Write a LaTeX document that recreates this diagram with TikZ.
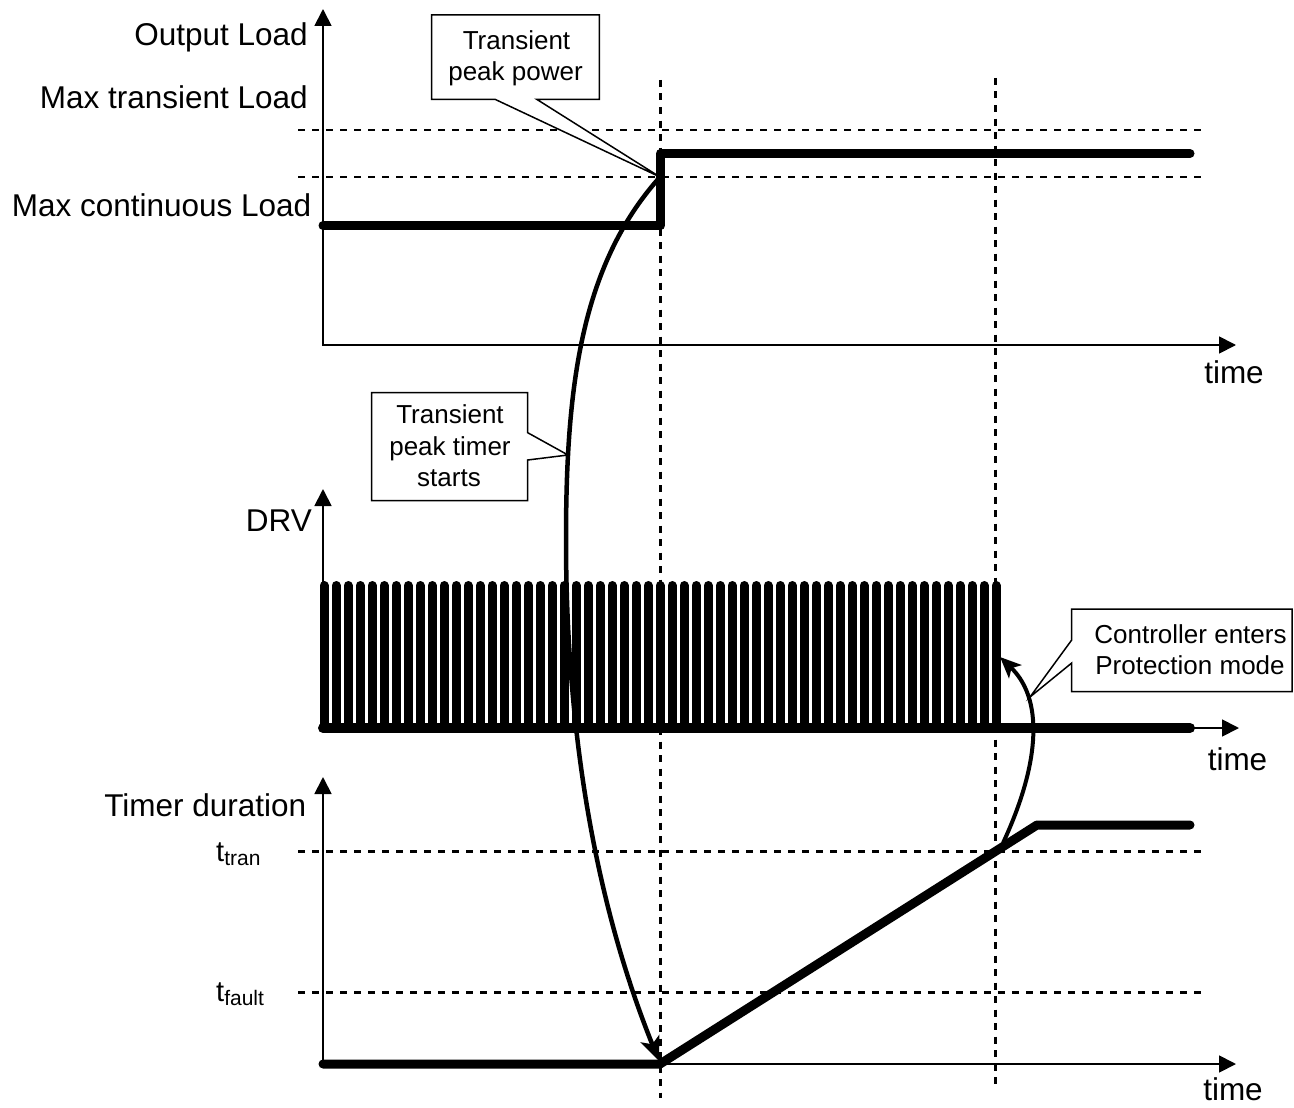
\documentclass[tikz,border=0pt]{standalone}
\usepackage{fontspec}
\setmainfont{Liberation Sans}
\usetikzlibrary{arrows.meta}
\begin{document}
\begin{tikzpicture}[x=1pt,y=-1pt,
  axis/.style={line width=1.8pt,{Triangle[length=17pt,width=17pt]}-{Triangle[length=17pt,width=17pt]}},
  sig/.style={line width=9pt,line cap=round,line join=round},
  pulse/.style={line width=9pt,line cap=round},
  guide/.style={line width=2.7pt,dash pattern=on 7pt off 7pt},
  vguide/.style={line width=3pt,dash pattern=on 7pt off 6.5pt},
  lbl/.style={font=\fontsize{31.5}{36}\selectfont,inner sep=0pt},
  note/.style={draw,line width=1.5pt,fill=white,line join=miter},
  notetext/.style={font=\fontsize{26}{31.5}\selectfont,inner sep=0pt,anchor=base},
  bendarrow/.style={line width=4.5pt,-{Stealth[length=24pt,width=20pt,inset=6pt]}},
  smallarrow/.style={line width=4pt,-{Stealth[length=21pt,width=18pt,inset=5pt]}}
]
\useasboundingbox (0,0) rectangle (1294,1108);

% guide lines
\draw[vguide] (660,80) -- (660,1098);
\draw[vguide] (995,78) -- (995,1090);
\draw[guide] (298,130) -- (1205,130);
\draw[guide] (298,177) -- (1205,177);
\draw[guide] (298,851.7) -- (1205,851.7);
\draw[guide] (298,992.3) -- (1205,992.3);

% axes
\coordinate (y1) at (323,9);
\coordinate (o1) at (323,345);
\coordinate (x1) at (1236,345);
\coordinate (y2) at (323,489);
\coordinate (o2) at (323,728);
\coordinate (x2) at (1239,728);
\coordinate (y3) at (323,777);
\coordinate (o3) at (323,1064);
\coordinate (x3) at (1236,1064);
\draw[axis] (y1) -- (o1) -- (x1);
\draw[axis] (y2) -- (o2) -- (x2);
\draw[axis] (y3) -- (o3) -- (x3);

% axis labels
\node[lbl,anchor=base east] (lout) at (308,46) {Output Load};
\node[lbl,anchor=base east] (lmt) at (308,108.3) {Max transient Load};
\node[lbl,anchor=base east] (lmc) at (311.5,216) {Max continuous Load};
\node[lbl,anchor=base east] (ldrv) at (312,531) {DRV};
\node[lbl,anchor=base east] (ltd) at (306.5,816) {Timer duration};
\node[lbl,anchor=base] (time1) at (1234,383.3) {time};
\node[lbl,anchor=base] (time2) at (1237.5,770) {time};
\node[lbl,anchor=base] (time3) at (1233,1100) {time};
\node[inner sep=0pt,anchor=base west] (ttran) at (216,861.7)
  {\fontsize{29}{33}\selectfont t\raisebox{-4pt}{\fontsize{21}{24}\selectfont tran}};
\node[inner sep=0pt,anchor=base west] (tfault) at (216,1001.7)
  {\fontsize{29}{33}\selectfont t\raisebox{-4pt}{\fontsize{21}{24}\selectfont fault}};

% signals
\draw[sig] (323,225.5) -- (660.5,225.5) -- (660.5,153.5) -- (1190,153.5);
\draw[sig,line width=10pt] (323,728) -- (1190,728);
\foreach \i in {0,...,56} {
  \draw[pulse] (324+12*\i,728) -- (324+12*\i,585.5);
}
\draw[sig] (323,1064) -- (660,1064) -- (1037,825) -- (1190,825);

% curved arrows
\coordinate (peak) at (660,177);
\coordinate (tstart) at (659,1061);
\coordinate (ramp) at (1003,843);
\coordinate (drvoff) at (1000,657);
\draw[bendarrow] (peak) .. controls (580,266) and (566,390) .. (566,540)
  .. controls (566,690) and (584,875) .. (tstart);
\draw[smallarrow] (ramp) .. controls (1036.6,771) and (1046.8,701.9) .. (drvoff);

% callouts
\draw[note] (431.7,15) -- (599.3,15) -- (599.3,99.3) -- (536.7,99.3) -- (peak) -- (495,99.3) -- (431.7,99.3) -- cycle;
\node[notetext] (c1a) at (516.5,50) {Transient};
\node[notetext] (c1b) at (515.5,81) {peak power};

\draw[note] (371.7,392.7) -- (527.7,392.7) -- (527.7,432.7) -- (568,455) -- (527.7,460) -- (527.7,500.7) -- (371.7,500.7) -- cycle;
\node[notetext] (c2a) at (450,423.3) {Transient};
\node[notetext] (c2b) at (450,455) {peak timer};
\node[notetext] (c2c) at (449,486) {starts};

\draw[note] (1071.7,609) -- (1292,609) -- (1292,691.7) -- (1071.7,691.7) -- (1071.7,663) -- (1030,697) -- (1071.7,640) -- cycle;
\node[notetext] (c3a) at (1190.5,643.3) {Controller enters};
\node[notetext] (c3b) at (1190,674) {Protection mode};
\end{tikzpicture}
\end{document}
